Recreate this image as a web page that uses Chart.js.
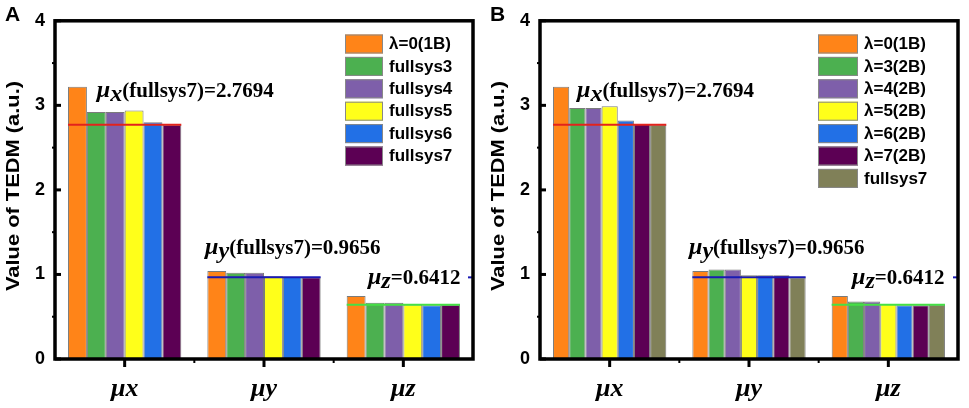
<!DOCTYPE html>
<html>
<head>
<meta charset="utf-8">
<script src="https://cdn.jsdelivr.net/npm/chart.js@4.4.0/dist/chart.umd.min.js"></script>
<style>
  html, body { margin: 0; padding: 0; background: #fff; }
  #wrap { display: flex; width: 969px; height: 408px; }
  canvas { display: block; }
</style>
</head>
<body>
<div id="wrap">
  <canvas id="ca" width="485" height="408"></canvas>
  <canvas id="cb" width="484" height="408"></canvas>
</div>
<script>
const SANS = '"Liberation Sans", Arial, sans-serif';
const SERIF = '"Liberation Serif", "Times New Roman", serif';

// categories / ticks
const categories = ['μx', 'μy', 'μz'];
const yTicks = [0, 1, 2, 3, 4];

// fullsys7 reference values, drawn as lines over each group
const refValues = [2.7694, 0.9656, 0.6412];
const refSubs = ['x', 'y', 'z'];
const refColors = ['#e3231c', '#1a1ab4', '#45e045'];

// panel A
const labelsA = ['λ=0(1B)', 'fullsys3', 'fullsys4', 'fullsys5', 'fullsys6', 'fullsys7'];
const colorsA = ['#ff8418', '#4cb050', '#7e5faa', '#ffff1a', '#2270e6', '#5c0054'];
const a_1B  = [3.22, 1.04, 0.745];
const a_fs3 = [2.92, 1.02, 0.665];
const a_fs4 = [2.92, 1.02, 0.665];
const a_fs5 = [2.94, 0.98, 0.645];
const a_fs6 = [2.80, 0.97, 0.635];
const a_fs7 = [2.7694, 0.9656, 0.6412];

// panel B
const labelsB = ['λ=0(1B)', 'λ=3(2B)', 'λ=4(2B)', 'λ=5(2B)', 'λ=6(2B)', 'λ=7(2B)', 'fullsys7'];
const colorsB = ['#ff8418', '#4cb050', '#7e5faa', '#ffff1a', '#2270e6', '#5c0054', '#808058'];
const b_1B  = [3.22, 1.04, 0.745];
const b_l3  = [2.97, 1.06, 0.68];
const b_l4  = [2.97, 1.06, 0.68];
const b_l5  = [2.99, 0.99, 0.65];
const b_l6  = [2.82, 0.99, 0.635];
const b_l7  = [2.78, 0.99, 0.635];
const b_fs7 = [2.7694, 0.9656, 0.6412];

function refText(i) {
  const v = refValues[i].toFixed(4);
  return i < 2 ? '(fullsys7)=' + v : '=' + v;
}

function drawAnno(ctx, x, y, sub, text) {
  ctx.save();
  ctx.translate(x, y);
  ctx.scale(1.05, 1);
  ctx.fillStyle = '#000';
  ctx.textAlign = 'left';
  ctx.textBaseline = 'alphabetic';
  ctx.font = 'italic bold 23px ' + SERIF;
  ctx.fillText('μ', 0, 0);
  let w = ctx.measureText('μ').width;
  ctx.fillText(sub, w, 4);
  w += ctx.measureText(sub).width;
  ctx.font = 'bold 20px ' + SERIF;
  ctx.fillText(text, w, 0);
  ctx.restore();
}

const panelPlugin = {
  id: 'panel',
  afterDatasetsDraw(chart, args, o) {
    const ctx = chart.ctx;
    const a = chart.chartArea;
    const xs = chart.scales.x, ys = chart.scales.y;
    const n = chart.data.datasets.length;
    const first = chart.getDatasetMeta(0), last = chart.getDatasetMeta(n - 1);

    // reference lines
    ctx.save();
    ctx.lineWidth = 2;
    refValues.forEach((v, i) => {
      const b0 = first.data[i].getProps(['x', 'width'], true);
      const b1 = last.data[i].getProps(['x', 'width'], true);
      const y = ys.getPixelForValue(v);
      ctx.strokeStyle = refColors[i];
      ctx.beginPath();
      ctx.moveTo(b0.x - b0.width / 2, y);
      ctx.lineTo(b1.x + b1.width / 2, y);
      ctx.stroke();
    });
    // small stray piece of the blue line at the right frame
    const yb = ys.getPixelForValue(refValues[1]);
    ctx.strokeStyle = refColors[1];
    ctx.beginPath(); ctx.moveTo(a.right - 5, yb); ctx.lineTo(a.right, yb); ctx.stroke();
    ctx.restore();

    // frame + ticks
    ctx.save();
    ctx.strokeStyle = '#000';
    ctx.lineWidth = 3.5;
    ctx.strokeRect(a.left, a.top, a.right - a.left, a.bottom - a.top);
    ctx.lineWidth = 3;
    ys.ticks.forEach(t => {
      const y = ys.getPixelForValue(t.value);
      ctx.beginPath(); ctx.moveTo(a.left, y); ctx.lineTo(a.left + 6, y); ctx.stroke();
    });
    categories.forEach((c, i) => {
      const x = xs.getPixelForValue(i);
      ctx.beginPath(); ctx.moveTo(x, a.bottom); ctx.lineTo(x, a.bottom + 8); ctx.stroke();
    });
    ctx.lineWidth = 2;
    for (let i = 0; i < yTicks.length - 1; i++) {
      const y = ys.getPixelForValue((yTicks[i] + yTicks[i + 1]) / 2);
      ctx.beginPath(); ctx.moveTo(a.left - 3, y); ctx.lineTo(a.left, y); ctx.stroke();
    }
    for (let i = 0; i < categories.length - 1; i++) {
      const x = xs.getPixelForValue(i + 0.5);
      ctx.beginPath(); ctx.moveTo(x, a.bottom); ctx.lineTo(x, a.bottom + 4); ctx.stroke();
    }
    ctx.restore();

    // annotations
    o.annos.forEach((p, i) => {
      drawAnno(ctx, xs.getPixelForValue(p[0]), ys.getPixelForValue(p[1]), refSubs[i], refText(i));
    });

    // legend
    ctx.save();
    ctx.font = 'bold 17px ' + SANS;
    ctx.textBaseline = 'middle';
    ctx.textAlign = 'left';
    chart.data.datasets.forEach((ds, j) => {
      const y = 34.5 + j * 22.4;
      ctx.fillStyle = ds.backgroundColor;
      ctx.fillRect(o.legendX, y, o.boxW, 19);
      ctx.strokeStyle = '#888';
      ctx.lineWidth = 1;
      ctx.strokeRect(o.legendX + 0.5, y + 0.5, o.boxW - 1, 18);
      ctx.fillStyle = '#000';
      ctx.fillText(ds.label, o.legendX + o.boxW + 6, y + 10);
    });
    ctx.restore();

    // panel letter and y title
    ctx.save();
    ctx.fillStyle = '#000';
    ctx.font = 'bold 21px ' + SANS;
    ctx.textBaseline = 'alphabetic';
    ctx.fillText(o.letter, 5, 21);
    ctx.translate(14, 186);
    ctx.rotate(-Math.PI / 2);
    ctx.scale(1.15, 1);
    ctx.font = 'bold 19px ' + SANS;
    ctx.textAlign = 'center';
    ctx.textBaseline = 'middle';
    ctx.fillText('Value of TEDM (a.u.)', 0, 0);
    ctx.restore();
  }
};

function makeChart(id, labels, colors, series, opts) {
  return new Chart(document.getElementById(id), {
    type: 'bar',
    data: {
      labels: categories,
      datasets: series.map((d, j) => ({
        label: labels[j],
        data: d,
        backgroundColor: colors[j],
        borderColor: 'rgba(100,100,100,0.85)',
        borderWidth: 1,
        categoryPercentage: 0.813,
        barPercentage: 1
      }))
    },
    options: {
      responsive: false,
      devicePixelRatio: 1,
      animation: false,
      layout: { padding: { left: 0, top: 20, right: opts.right, bottom: 0 } },
      plugins: {
        legend: { display: false },
        tooltip: { enabled: false },
        panel: opts
      },
      scales: {
        x: {
          grid: { display: false, drawTicks: false },
          border: { display: false },
          ticks: { color: '#000', padding: 15, font: { family: SERIF, size: 26, style: 'italic', weight: 'bold' } },
          afterFit: s => { s.height = 49; }
        },
        y: {
          min: 0, max: 4,
          grid: { display: false, drawTicks: false },
          border: { display: false },
          ticks: { color: '#000', padding: 10, font: { family: SANS, size: 18, weight: 'bold' } },
          afterBuildTicks: s => { s.ticks = yTicks.map(v => ({ value: v })); },
          afterFit: s => { s.width = 55; }
        }
      }
    },
    plugins: [panelPlugin]
  });
}

makeChart('ca', labelsA, colorsA, [a_1B, a_fs3, a_fs4, a_fs5, a_fs6, a_fs7], {
  letter: 'A', right: 12, legendX: 345, boxW: 38,
  annos: [[-0.2, 3.1], [0.577, 1.24], [1.746, 0.885]]
});
makeChart('cb', labelsB, colorsB, [b_1B, b_l3, b_l4, b_l5, b_l6, b_l7, b_fs7], {
  letter: 'B', right: 11, legendX: 333, boxW: 40,
  annos: [[-0.234, 3.1], [0.569, 1.245], [1.739, 0.89]]
});
</script>
</body>
</html>
